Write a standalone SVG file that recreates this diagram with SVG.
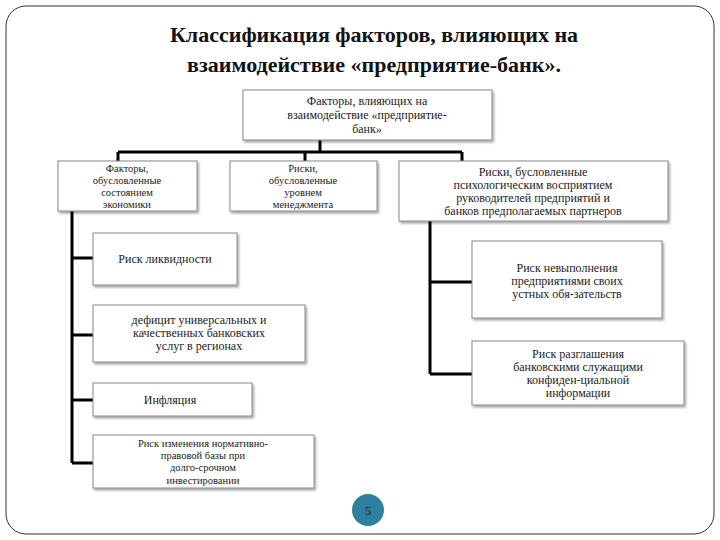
<svg xmlns="http://www.w3.org/2000/svg" width="720" height="540" viewBox="0 0 720 540">
<style>
.b{fill:#fff;stroke:#888;stroke-width:1;filter:url(#sh)}
.t{font-family:"Liberation Serif","Times New Roman",serif;font-size:12px;fill:#222;text-anchor:middle}
.s{font-size:10.5px}
.h{font-family:"Liberation Serif","Times New Roman",serif;font-size:22px;font-weight:bold;fill:#111;text-anchor:middle}
.c{fill:none;stroke:#000;stroke-width:3}
</style>
<defs><filter id="sh" x="-10%" y="-10%" width="130%" height="140%"><feDropShadow dx="1.5" dy="2" stdDeviation="1" flood-color="#000" flood-opacity="0.35"/></filter></defs>
<rect x="6" y="6" width="708" height="528" rx="20" fill="#fff" stroke="#333" stroke-width="1"/>
<text class="h" x="374" y="42">Классификация факторов, влияющих на</text>
<text class="h" x="374" y="72">взаимодействие «предприятие-банк».</text>
<g id="connectors">
<path class="c" d="M320 140V152M118 152H462M118 152V161M305 152V161M462 152V161"/>
<path class="c" d="M72 211V463M72 258H93M72 335H93M72 400H93M72 463H93"/>
<path class="c" d="M430 221V374M430 282H472M430 374H472"/>
</g>
<g id="n0"><rect class="b" x="243" y="90" width="249" height="50"/><text class="t" x="367" y="105">Факторы, влияющих на</text><text class="t" x="367" y="119">взаимодействие «предприятие-</text><text class="t" x="367" y="133">банк»</text></g>
<g id="n1"><rect class="b" x="58" y="161" width="139" height="50"/><text class="t s" x="127" y="172">Факторы,</text><text class="t s" x="127" y="184">обусловленные</text><text class="t s" x="127" y="196">состоянием</text><text class="t s" x="127" y="208">экономики</text></g>
<g id="n2"><rect class="b" x="230" y="161" width="147" height="50"/><text class="t s" x="303" y="172">Риски,</text><text class="t s" x="303" y="184">обусловленные</text><text class="t s" x="303" y="196">уровнем</text><text class="t s" x="303" y="208">менеджмента</text></g>
<g id="n3"><rect class="b" x="399" y="161" width="269" height="60"/><text class="t" x="533" y="176">Риски, бусловленные</text><text class="t" x="533" y="189">психологическим восприятием</text><text class="t" x="533" y="202">руководителей предприятий и</text><text class="t" x="533" y="215">банков предполагаемых партнеров</text></g>
<g id="n4"><rect class="b" x="93" y="233" width="144" height="52"/><text class="t" x="165" y="263">Риск ликвидности</text></g>
<g id="n5"><rect class="b" x="93" y="305" width="212" height="57"/><text class="t" x="199" y="324">дефицит универсальных  и</text><text class="t" x="199" y="337">качественных банковских</text><text class="t" x="199" y="350">услуг  в регионах</text></g>
<g id="n6"><rect class="b" x="93" y="383" width="159" height="33"/><text class="t" x="170" y="404">Инфляция</text></g>
<g id="n7"><rect class="b" x="93" y="435" width="221" height="53"/><text class="t s" x="203" y="447">Риск изменения нормативно-</text><text class="t s" x="203" y="459">правовой базы  при</text><text class="t s" x="203" y="471">долго-срочном</text><text class="t s" x="203" y="484">инвестировании</text></g>
<g id="n8"><rect class="b" x="472" y="241" width="190" height="77"/><text class="t" x="567" y="272">Риск невыполнения</text><text class="t" x="567" y="285">предприятиями своих</text><text class="t" x="567" y="298">устных обя-зательств</text></g>
<g id="n9"><rect class="b" x="472" y="341" width="212" height="64"/><text class="t" x="578" y="358">Риск разглашения</text><text class="t" x="578" y="371">банковскими служащими</text><text class="t" x="578" y="384">конфиден-циальной</text><text class="t" x="578" y="397">информации</text></g>
<circle cx="368" cy="510" r="16" fill="#2f7fa0"/><text class="t" x="368" y="515" font-size="13">5</text>
</svg>
